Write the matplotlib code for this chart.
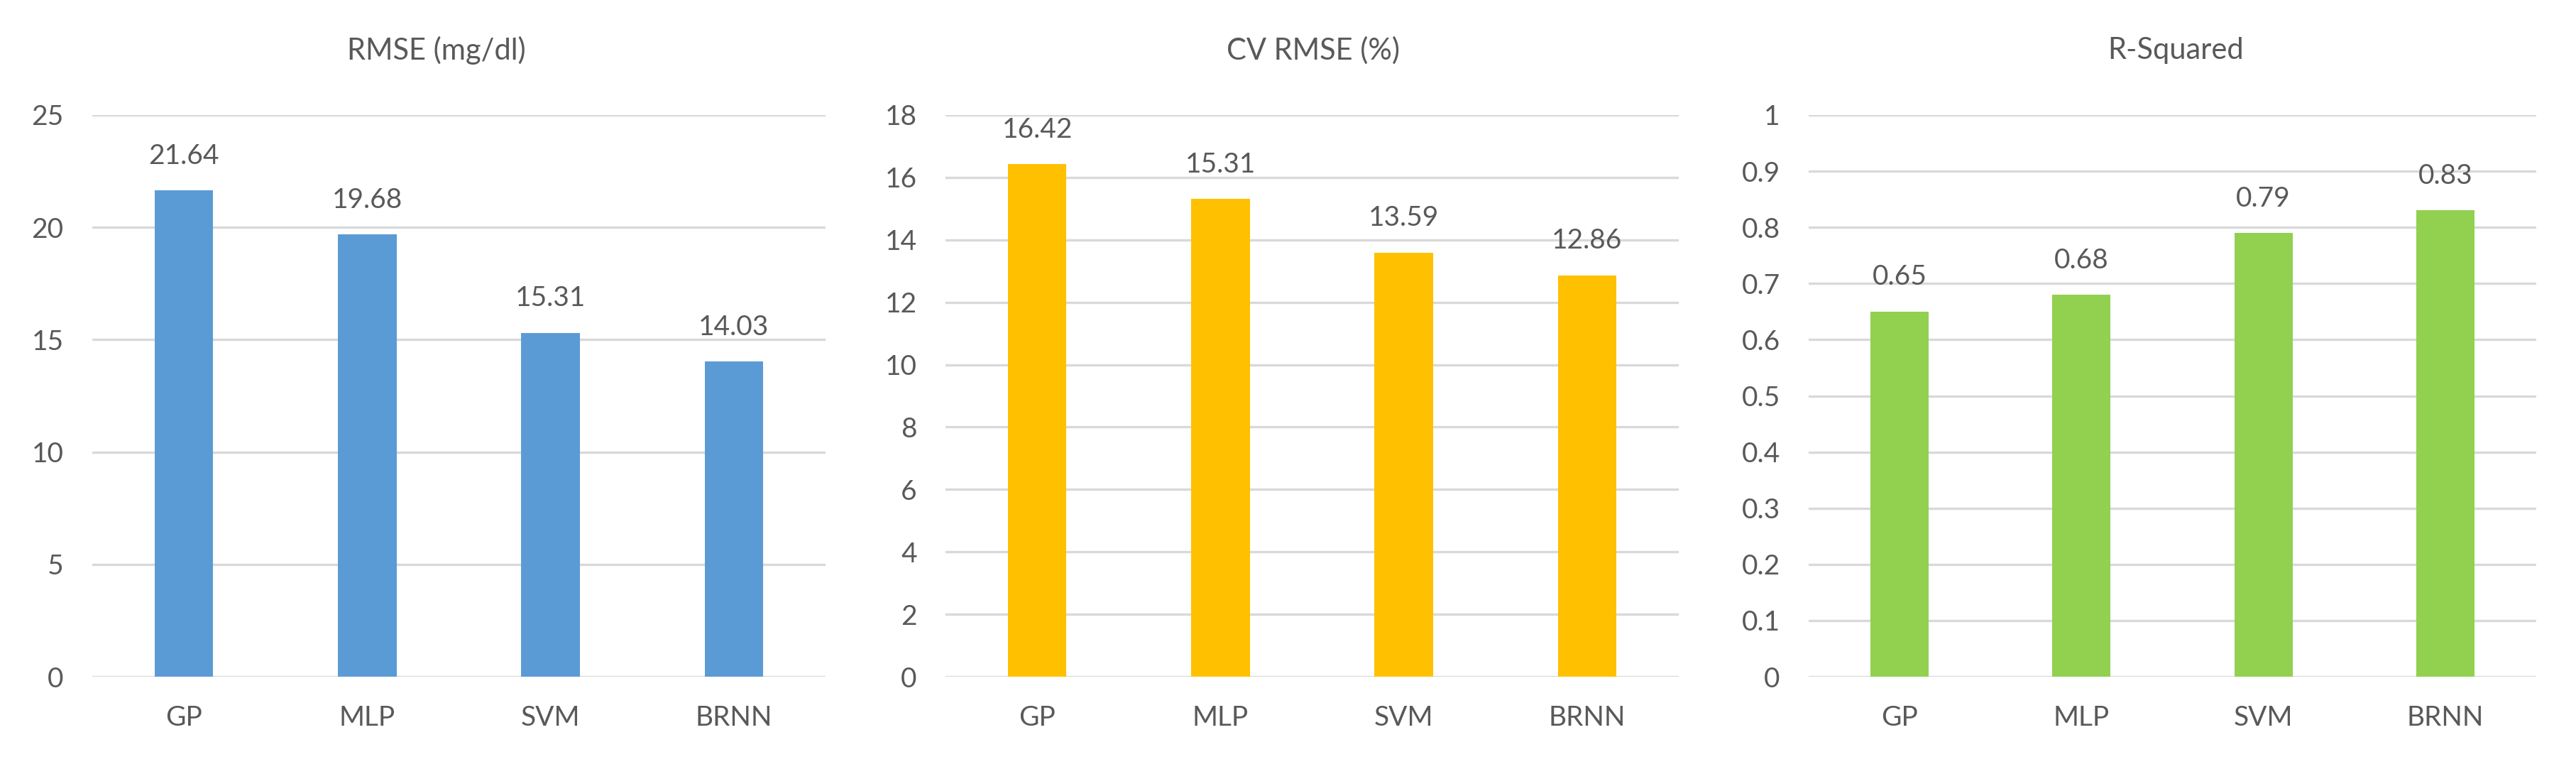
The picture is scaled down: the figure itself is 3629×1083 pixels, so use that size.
import matplotlib
matplotlib.use("Agg")
import matplotlib.pyplot as plt

plt.rcParams['font.family'] = ['Lato', 'DejaVu Sans']

models = ["GP", "MLP", "SVM", "BRNN"]
rmse = [21.64, 19.68, 15.31, 14.03]
cv_rmse = [16.42, 15.31, 13.59, 12.86]
r_squared = [0.65, 0.68, 0.79, 0.83]

titles = ["RMSE (mg/dl)", "CV RMSE (%)", "R-Squared"]
colors = ["#5B9BD5", "#FFC000", "#92D050"]
ylims = [25, 18, 1]
ysteps = [5, 2, 0.1]

text_col = "#595959"
grid_col = "#D9D9D9"

W, H = 3630, 1083
fig = plt.figure(figsize=(W / 100, H / 100), dpi=100)

# axes boxes in pixels (left, right)
boxes = [(130, 1163), (1332, 2365), (2548, 3573)]
title_x = [615, 1850, 3065]
y0, y1 = 953, 162

for i, vals in enumerate([rmse, cv_rmse, r_squared]):
    l, r = boxes[i]
    ax = fig.add_axes([l / W, (H - y0) / H, (r - l) / W, (y0 - y1) / H])
    x = range(len(models))
    ax.bar(x, vals, width=0.32, color=colors[i], zorder=3)
    ax.set_xlim(-0.5, 3.5)
    ax.set_ylim(0, ylims[i])
    n = int(round(ylims[i] / ysteps[i]))
    ticks = [k * ysteps[i] for k in range(n + 1)]
    ax.set_yticks(ticks)
    if i == 2:
        ax.set_yticklabels(["0" if t == 0 else ("1" if k == n else f"{t:.1f}") for k, t in enumerate(ticks)])
    else:
        ax.set_yticklabels([str(int(round(t))) for t in ticks])
    ax.set_xticks(list(x))
    ax.set_xticklabels(models)
    for t in ticks:
        ax.axhline(t, color=grid_col, lw=2.4, zorder=1)
    for s in ax.spines.values():
        s.set_visible(False)
    ax.tick_params(axis='both', length=0, labelsize=28, colors=text_col)
    ax.tick_params(axis='y', pad=29)
    ax.tick_params(axis='x', pad=29)
    for xi, v in zip(x, vals):
        ax.annotate(f"{v:.2f}", (xi, v), xytext=(0, 22), textcoords='offset points',
                    ha='center', va='bottom', fontsize=28, color=text_col)
    fig.text(title_x[i] / W, (H - 71) / H, titles[i], ha='center', va='center',
             fontsize=30, color=text_col)

fig.savefig("out.png", dpi=100, facecolor="white")
